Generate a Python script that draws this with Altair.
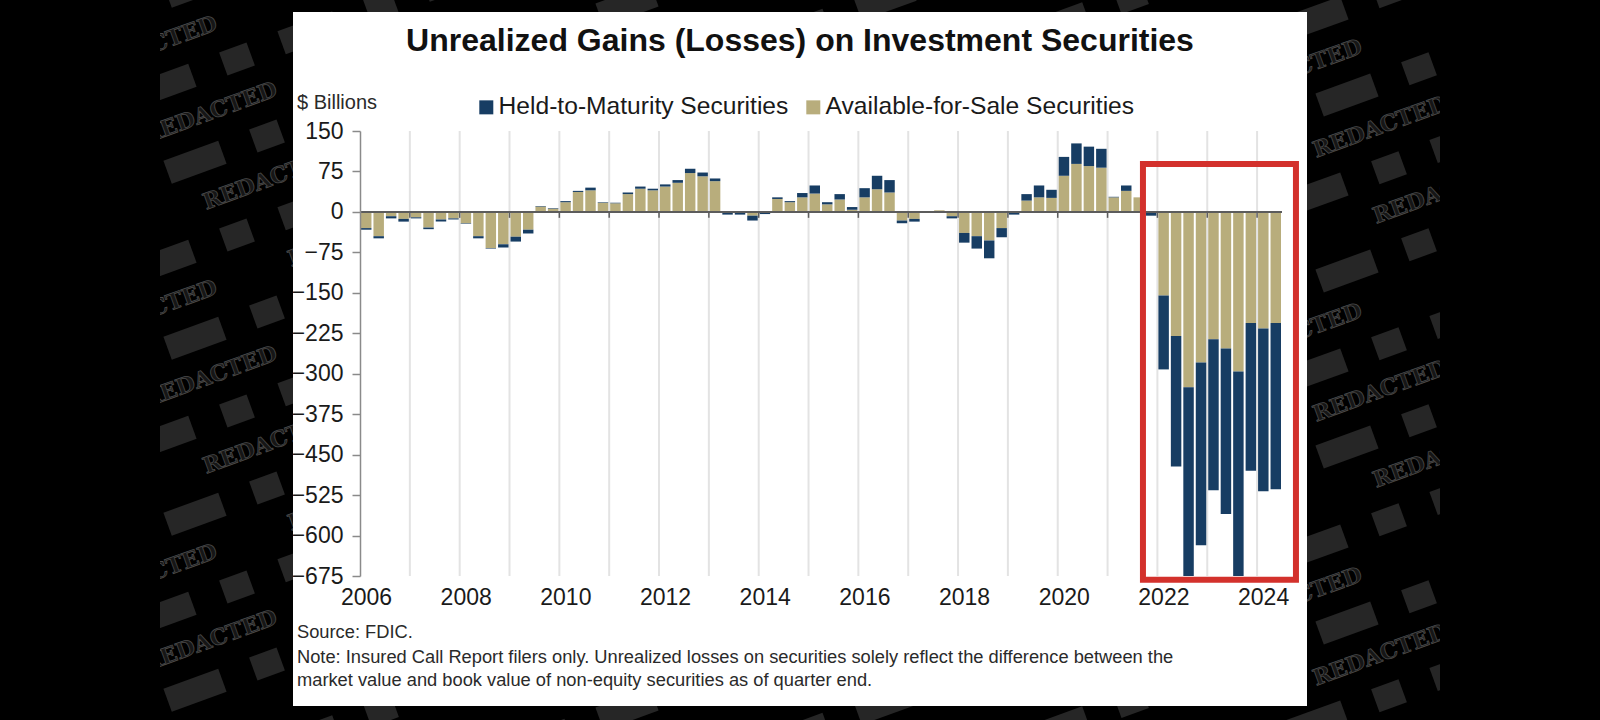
import altair as alt
import numpy as np
import pandas as pd

# ---------------- data: FDIC unrealized gains (losses), $ billions ----------------
START_YEAR = 2006  # first quarter is 2006 Q1, one value per quarter through 2024 Q2

afs = [  # Available-for-Sale securities
    -30, -45, -8, -13,      # 2006
    -10, -29, -14, -12,     # 2007
    -21, -45, -67, -60,     # 2008
    -46, -33, 10, 6,        # 2009
    18, 37, 40, 17,         # 2010
    16, 33, 43, 40,         # 2011
    47, 54, 72, 66,         # 2012
    57, -1, -1, -7,         # 2013
    -1, 24, 18, 27,         # 2014
    34, 14, 23, 4,          # 2015
    27, 42, 36, -16,        # 2016
    -13, -1, 3, -8,         # 2017
    -39, -45, -53, -30,     # 2018
    -2, 21, 27, 26,         # 2019
    67, 89, 85, 82,         # 2020
    27, 39, 27, -1,         # 2021
    -155, -230, -325, -279, # 2022
    -236, -253, -296, -206, # 2023
    -216, -206,             # 2024
]
htm = [  # Held-to-Maturity securities
    -3, -4, -4, -5,
    -2, -3, -4, -2,
    -1, -4, -1, -6,
    -9, -7, 1, 1,
    2, 2, 5, 1,
    1, 3, 4, 3,
    4, 5, 8, 7,
    5, -4, -4, -9,
    -3, 3, 2, 8,
    15, 4, 10, 5,
    17, 25, 23, -5,
    -5, -1, 0, -4,
    -18, -23, -33, -17,
    -3, 12, 22, 15,
    35, 38, 36, 35,
    1, 10, 0, -6,
    -137, -242, -350, -339,
    -280, -307, -379, -274,
    -302, -308,
]

x_labels = list(range(2006, 2025, 2))
grid_years = list(range(2007, 2025))
y_ticks = list(range(-675, 151, 75))

HTM = "Held-to-Maturity Securities"
AFS = "Available-for-Sale Securities"
TITLE = "Unrealized Gains (Losses) on Investment Securities"
UNIT = "$ Billions"
SOURCE = "Source: FDIC."
NOTE = [
    "Note: Insured Call Report filers only. Unrealized losses on securities solely reflect the difference between the",
    "market value and book value of non-equity securities as of quarter end.",
]
WATERMARK = "REDACTED"

# ---------------- layout ----------------
FONT = "Liberation Sans"
NAVY = "#173d63"
TAN = "#b8ad7c"
W, H = 922, 445
PAD = {"left": 360, "top": 131, "right": 1600 - 360 - W, "bottom": 720 - 131 - H}
OX, OY = PAD["left"], PAD["top"]

xs = alt.Scale(domain=[2006, 2024.5], nice=False, zero=False)
ys = alt.Scale(domain=[-675, 150], nice=False, zero=False)

# stacked segments: AFS next to zero, HTM beyond it in the same direction
rows = []
for i, (a, h) in enumerate(zip(afs, htm)):
    t = START_YEAR + i / 4
    rows.append(dict(t0=t + 0.02, t1=t + 0.23, lo=0, hi=a, series=AFS))
    base = a if (a >= 0) == (h >= 0) else 0
    rows.append(dict(t0=t + 0.02, t1=t + 0.23, lo=base, hi=base + h, series=HTM))
bars_df = pd.DataFrame(rows)

# ---------------- background watermark ----------------
slope = np.tan(np.deg2rad(20))
wm_words, wm_blocks = [], []
for k in range(-2, 17):
    y_row = 43 + 88 * k
    for j in range(8):
        x = 150 + 205 * j + (k % 3) * 60
        y = y_row - slope * (x - 160)
        if 40 < y < 680 and 120 < x < 1480:
            wm_words.append(dict(px=x - OX, py=y - OY, w=WATERMARK))
    for j in range(20):
        x = 165 + 72 * j + (k % 2) * 30
        y = y_row + 44 - slope * (x - 160)
        if -40 < y < 760 and 120 < x < 1480:
            wm_blocks.append(dict(px=x - OX, py=y - OY, kind="wide" if j % 2 == 0 else "narrow"))
words_df = pd.DataFrame(wm_words)
blocks_df = pd.DataFrame(wm_blocks)

blocks = alt.Chart(blocks_df).mark_point(filled=True, angle=340, opacity=1, color="#262626", size=3400).encode(
    x=alt.X("px:Q", scale=None, axis=None),
    y=alt.Y("py:Q", scale=None, axis=None),
    shape=alt.Shape("kind:N", legend=None, scale=alt.Scale(
        domain=["wide", "narrow"],
        range=["M-1,-0.42H1V0.42H-1Z", "M-0.5,-0.42H0.5V0.42H-0.5Z"])),
)
words = alt.Chart(words_df).mark_text(
    angle=340, font="DejaVu Serif", fontWeight="bold", fontSize=22,
    fill="#161616", stroke="#4a4a4a", strokeWidth=0.8, align="center", baseline="middle",
).encode(
    x=alt.X("px:Q", scale=None, axis=None),
    y=alt.Y("py:Q", scale=None, axis=None),
    text="w:N",
)

side_l = alt.Chart(pd.DataFrame({"k": [0]})).mark_rect(color="black").encode(
    x=alt.value(0 - OX), x2=alt.value(160 - OX), y=alt.value(0 - OY), y2=alt.value(720 - OY))
side_r = alt.Chart(pd.DataFrame({"k": [0]})).mark_rect(color="black").encode(
    x=alt.value(1440 - OX), x2=alt.value(1600 - OX), y=alt.value(0 - OY), y2=alt.value(720 - OY))
card = alt.Chart(pd.DataFrame({"k": [0]})).mark_rect(color="white").encode(
    x=alt.value(293 - OX), x2=alt.value(1307 - OX), y=alt.value(12 - OY), y2=alt.value(706 - OY))

# ---------------- chart ----------------
grid = alt.Chart(pd.DataFrame({"yr": grid_years})).mark_rule(color="#e3e3e3", strokeWidth=2).encode(
    x=alt.X("yr:Q", scale=xs), y=alt.datum(150), y2=alt.datum(-675))

bars = alt.Chart(bars_df).mark_rect().encode(
    x=alt.X("t0:Q", scale=xs, axis=alt.Axis(
        values=x_labels, format="d", title=None, domain=False, ticks=False, grid=False,
        labelFontSize=23, labelFont=FONT, labelColor="#1a1a1a", labelPadding=10,
        labelOffset=6, labelFlush=False, zindex=1)),
    x2="t1:Q",
    y=alt.Y("lo:Q", scale=ys, axis=alt.Axis(
        values=y_ticks, title=None, grid=False, domainColor="#8a8a8a", domainWidth=1.5,
        tickColor="#8a8a8a", tickWidth=1.5, tickSize=8, labelFontSize=23, labelFont=FONT,
        labelColor="#1a1a1a", labelPadding=9, zindex=1)),
    y2="hi:Q",
    color=alt.Color("series:N", scale=alt.Scale(domain=[HTM, AFS], range=[NAVY, TAN]),
                    legend=alt.Legend(
                        orient="none", legendX=114, legendY=-36, direction="horizontal",
                        title=None, symbolType="square", symbolSize=196, symbolStrokeWidth=0,
                        labelFontSize=24.6, labelFont=FONT, labelColor="#1a1a1a", labelOffset=0,
                        labelLimit=0, columnPadding=12, padding=0, zindex=1)),
)

zero_line = alt.Chart(pd.DataFrame({"a": [2006], "b": [2024.5]})).mark_rule(
    color="#5c5c5c", strokeWidth=2).encode(x="a:Q", x2="b:Q", y=alt.datum(0))
zero_ticks = alt.Chart(pd.DataFrame({"yr": grid_years})).mark_rule(
    color="#5c5c5c", strokeWidth=1.5).encode(x="yr:Q", y=alt.datum(0), y2=alt.datum(-11))

highlight = alt.Chart(pd.DataFrame({"x0": [2021.71], "x1": [2024.78], "y0": [88.8], "y1": [-682]})).mark_rect(
    filled=False, stroke="#d3312c", strokeWidth=6).encode(x="x0:Q", x2="x1:Q", y="y0:Q", y2="y1:Q")


def label(text, px, py, size, weight="normal", align="left", color="#2a2a2a"):
    return alt.Chart(pd.DataFrame({"s": [text]})).mark_text(
        font=FONT, fontSize=size, fontWeight=weight, align=align, baseline="middle", color=color
    ).encode(x=alt.value(px - OX), y=alt.value(py - OY), text="s:N")


texts = [
    label(TITLE, 800, 41, 32, "bold", "center", "#111111"),
    label(UNIT, 297, 103, 20),
    label(SOURCE, 297, 633, 18.3),
    label(NOTE[0], 297, 658, 18.3),
    label(NOTE[1], 297, 681, 18.3),
]

chart = alt.layer(
    blocks, words, side_l, side_r, card, grid, bars, zero_line, zero_ticks, highlight, *texts
).properties(
    width=W, height=H, padding=PAD, background="black",
    autosize=alt.AutoSizeParams(type="none"),
).configure_view(stroke=None)

chart.save("out.html", embed_options={"renderer": "svg", "actions": False})
